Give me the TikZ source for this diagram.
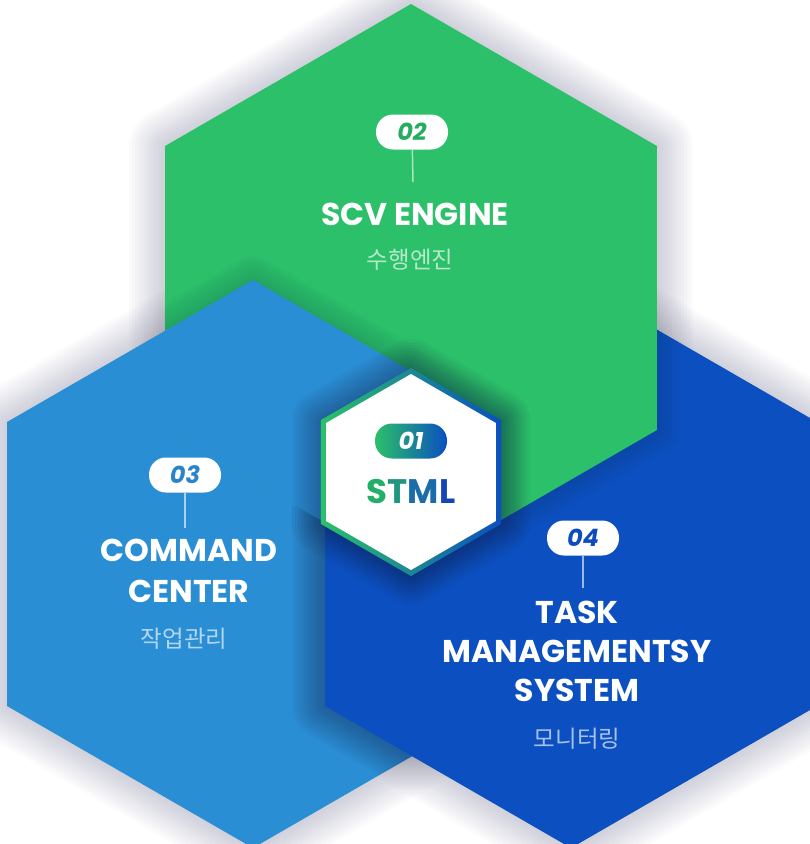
\documentclass[tikz,border=0pt]{standalone}
\usepackage{fontspec}
\setmainfont{Poppins}
\newfontfamily\krfont{Noto Sans CJK KR}
\definecolor{hexgreen}{RGB}{43,192,105}
\definecolor{hexsky}{RGB}{42,142,212}
\definecolor{hexnavy}{RGB}{11,79,192}
\definecolor{shadowc}{RGB}{25,30,70}
\definecolor{numgreen}{RGB}{38,172,95}
\definecolor{numsky}{RGB}{40,132,204}
\definecolor{numnavy}{RGB}{14,76,190}
\definecolor{stmlS}{RGB}{34,176,104}
\definecolor{stmlT}{RGB}{30,150,128}
\definecolor{stmlM}{RGB}{26,108,170}
\definecolor{stmlL}{RGB}{20,70,180}
\tikzset{
	hex/.style 2 args={insert path={(#1)+(90:#2)--+(150:#2)--+(210:#2)--+(270:#2)--+(330:#2)--+(30:#2)--cycle}},
	castshadow/.style={draw=shadowc,opacity=#1,line join=round},
	castshadow/.default=0.015,
	badge/.style={fill=white,rounded corners=17pt,minimum width=72pt,minimum height=35pt,inner sep=0pt,font=\fontsize{24}{24}\selectfont\bfseries\itshape},
	title/.style={text=white,align=center,inner sep=0pt,font=\fontsize{31.5}{#1}\selectfont\bfseries},
	title/.default=39,
	subtitle/.style={text=white,text opacity=0.65,inner sep=0pt,font=\krfont\fontsize{23.5}{24}\selectfont},
	stem/.style={white,opacity=0.6,line width=1.5pt}
}
\begin{document}
\begin{tikzpicture}[x=1pt,y=-1pt]
		\useasboundingbox(0,0)rectangle(810,844);
		\clip(0,0)rectangle(810,844);
		\fill[white](0,0)rectangle(810,844);
		\coordinate(G)at(411,288);
		\coordinate(L)at(253,564);
		\coordinate(N)at(571,564);
		\coordinate(C)at(411,472);
		\foreach \h in {G,L,N}{\foreach \w in {6,12,...,72}{\draw[castshadow,line width=\w pt,shift={(0,10)},hex={\h}{284}];}}
		\fill[hexsky,hex={L}{284}];
		\begin{scope}\clip[hex={L}{284}];\foreach \w in {6,12,...,66}{\draw[castshadow=0.04,line width=\w pt,hex={N}{284}];}\end{scope}
		\fill[hexnavy,hex={N}{284}];
		\begin{scope}\clip[hex={N}{284}];\foreach \w in {6,12,...,48}{\draw[castshadow=0.02,line width=\w pt,hex={G}{284}];}\end{scope}
		\fill[hexgreen,hex={G}{284}];
		\begin{scope}\clip[hex={G}{284}];\foreach \w in {6,12,...,48}{\draw[castshadow=0.02,line width=\w pt,hex={L}{284}];}\fill[hexsky,hex={L}{284}];\end{scope}
		\foreach \w in {6,12,...,60}{\draw[castshadow=0.04,line width=\w pt,hex={C}{103}];}
		\shade[left color=hexgreen,middle color=hexsky,right color=hexnavy,hex={C}{104}];
		\fill[white,hex={C}{98}];
		\node[badge,left color=hexgreen,right color=hexnavy,text=white](b1)at(411,441){01};
		\node[inner sep=0pt,font=\fontsize{34}{34}\selectfont\bfseries](t1)at(411,492){\textcolor{stmlS}{S}\textcolor{stmlT}{T}\textcolor{stmlM}{M}\textcolor{stmlL}{L}};
		\node[badge,text=numgreen](b2)at(412,132){02};
		\coordinate(e2)at(413,182);
		\draw[stem](b2)--(e2);
		\node[title](t2)at(415,214){SCV ENGINE};
		\node[subtitle](s2)at(410,260){수행엔진};
		\node[badge,text=numsky](b3)at(185,475){03};
		\coordinate(e3)at(185,528);
		\draw[stem](b3)--(e3);
		\node[title=41](t3)at(189,571){COMMAND\\CENTER};
		\node[subtitle](s3)at(184,639){작업관리};
		\node[badge,text=numnavy](b4)at(583,538){04};
		\coordinate(e4)at(583,588);
		\draw[stem](b4)--(e4);
		\node[title](t4)at(577,651){TASK\\MANAGEMENTSY\\SYSTEM};
		\node[subtitle](s4)at(577,739){모니터링};
\end{tikzpicture}
\end{document}
